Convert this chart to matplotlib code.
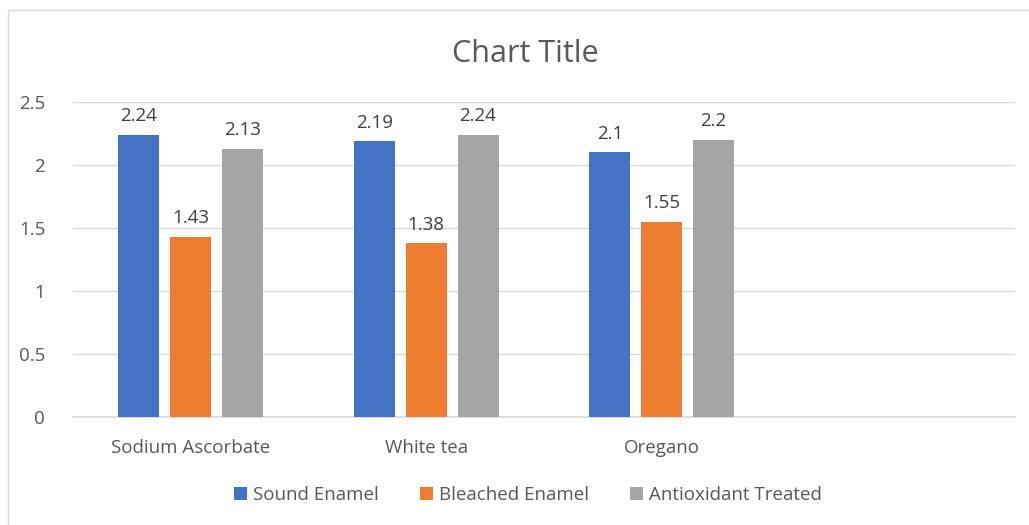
import numpy as np
import matplotlib.pyplot as plt
from matplotlib.patches import Rectangle

# Data
categories = ["Sodium Ascorbate", "White tea", "Oregano", ""]
sound_enamel = [2.24, 2.19, 2.1, None]
bleached_enamel = [1.43, 1.38, 1.55, None]
antioxidant_treated = [2.13, 2.24, 2.2, None]

series = [
    ("Sound Enamel", sound_enamel, "#4472C4"),
    ("Bleached Enamel", bleached_enamel, "#ED7D31"),
    ("Antioxidant Treated", antioxidant_treated, "#A5A5A5"),
]

plt.rcParams["font.family"] = ["Open Sans", "DejaVu Sans"]

fig = plt.figure(figsize=(10.29, 5.25), dpi=100)
ax = fig.add_axes([73 / 1029, 108 / 525, 942 / 1029, 315 / 525])

# chart frame
fig.patches.append(Rectangle((8 / 1029, -0.05), 1.2, (515 / 525) + 0.05,
                             transform=fig.transFigure, fill=False,
                             edgecolor="#d9d9d9", linewidth=1))

x = np.arange(len(categories))
width = 0.174
step = 0.22

for i, (name, vals, color) in enumerate(series):
    pos = [x[j] + (i - 1) * step for j in range(len(vals)) if vals[j] is not None]
    v = [val for val in vals if val is not None]
    bars = ax.bar(pos, v, width=width, color=color, label=name, zorder=3)
    for b, val in zip(bars, v):
        ax.text(b.get_x() + b.get_width() / 2, val + 0.075, f"{val:g}",
                ha="center", va="bottom", fontsize=13.5, color="#404040")

ax.set_xlim(-0.5, len(categories) - 0.5)
ax.set_ylim(0, 2.5)
ax.set_yticks(np.arange(0, 2.51, 0.5))
ax.set_yticklabels(["0", "0.5", "1", "1.5", "2", "2.5"])
ax.set_xticks(x)
ax.set_xticklabels(categories)
ax.tick_params(axis="both", length=0, labelsize=13.5, colors="#595959")
ax.tick_params(axis="y", pad=20)
ax.tick_params(axis="x", pad=16)

ax.grid(axis="y", color="#d9d9d9", linewidth=1, zorder=0)
for s in ["top", "right", "left"]:
    ax.spines[s].set_visible(False)
ax.spines["bottom"].set_color("#d9d9d9")
ax.spines["bottom"].set_linewidth(1.2)

fig.text(525 / 1029, 1 - 54 / 525, "Chart Title", ha="center", va="center",
         fontsize=22, color="#595959")

leg = fig.legend(loc="center", bbox_to_anchor=(528 / 1029, 1 - 495 / 525), ncol=3,
                 frameon=False, fontsize=13.5, handlelength=0.7, handleheight=0.7,
                 handletextpad=0.3, columnspacing=2.2)
for t in leg.get_texts():
    t.set_color("#595959")

fig.savefig("out.png", dpi=100)
